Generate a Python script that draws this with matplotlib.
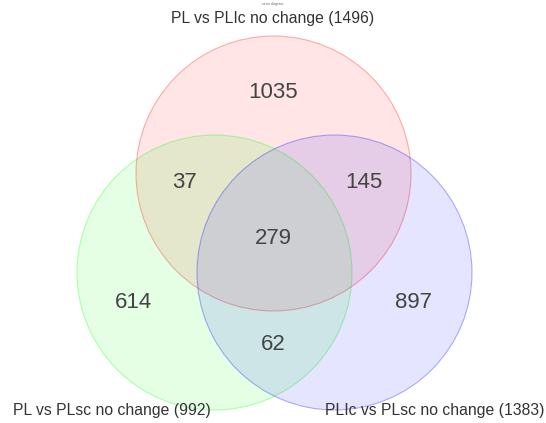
import matplotlib
matplotlib.use("Agg")
import matplotlib.pyplot as plt
from matplotlib.patches import Circle

# set names and region counts
set_names = ["PL vs PLIc no change", "PL vs PLsc no change", "PLIc vs PLsc no change"]
set_totals = [1496, 992, 1383]
only_counts = [1035, 614, 897]          # A only, B only, C only
pair_counts = [37, 145, 62]             # A&B, A&C, B&C
all_count = 279
title = "venn diagram"

colors = ["#ff0000", "#00ff00", "#0000ff"]

W, H = 546, 423
fig = plt.figure(figsize=(W / 100, H / 100), dpi=100)
ax = fig.add_axes([0, 0, 1, 1])
ax.set_xlim(0, W)
ax.set_ylim(H, 0)
ax.set_aspect("equal")
ax.axis("off")

# circle layout (pixels)
centers = [(273.5, 173.5), (214.5, 272.5), (334.5, 272.5)]
radius = 137.5

for (cx, cy), c in zip(centers, colors):
    ax.add_patch(Circle((cx, cy), radius, facecolor=c, alpha=0.1, edgecolor="none"))
    ax.add_patch(Circle((cx, cy), radius, facecolor="none", edgecolor=c, alpha=0.3, lw=0.8))

font = "Liberation Sans"
txt = "#444444"
num_size = 16

only_pos = [(273, 92), (134, 302), (414, 302)]
for (x, y), v in zip(only_pos, only_counts):
    ax.text(x, y, str(v), ha="center", va="center", fontsize=num_size, color=txt, family=font)

pair_pos = [(184, 183), (364, 183), (273, 345)]
for (x, y), v in zip(pair_pos, pair_counts):
    ax.text(x, y, str(v), ha="center", va="center", fontsize=num_size, color=txt, family=font)

ax.text(273, 239, str(all_count), ha="center", va="center", fontsize=num_size, color=txt, family=font)

label_pos = [(273, 18), (112, 410), (435, 410)]
for (x, y), n, t in zip(label_pos, set_names, set_totals):
    ax.text(x, y, f"{n} ({t})", ha="center", va="center", fontsize=11.3, color="#333333", family=font)

ax.text(273, 4, title, ha="center", va="center", fontsize=2.5, color="#666666", family=font)

fig.savefig("out.png", dpi=100)
